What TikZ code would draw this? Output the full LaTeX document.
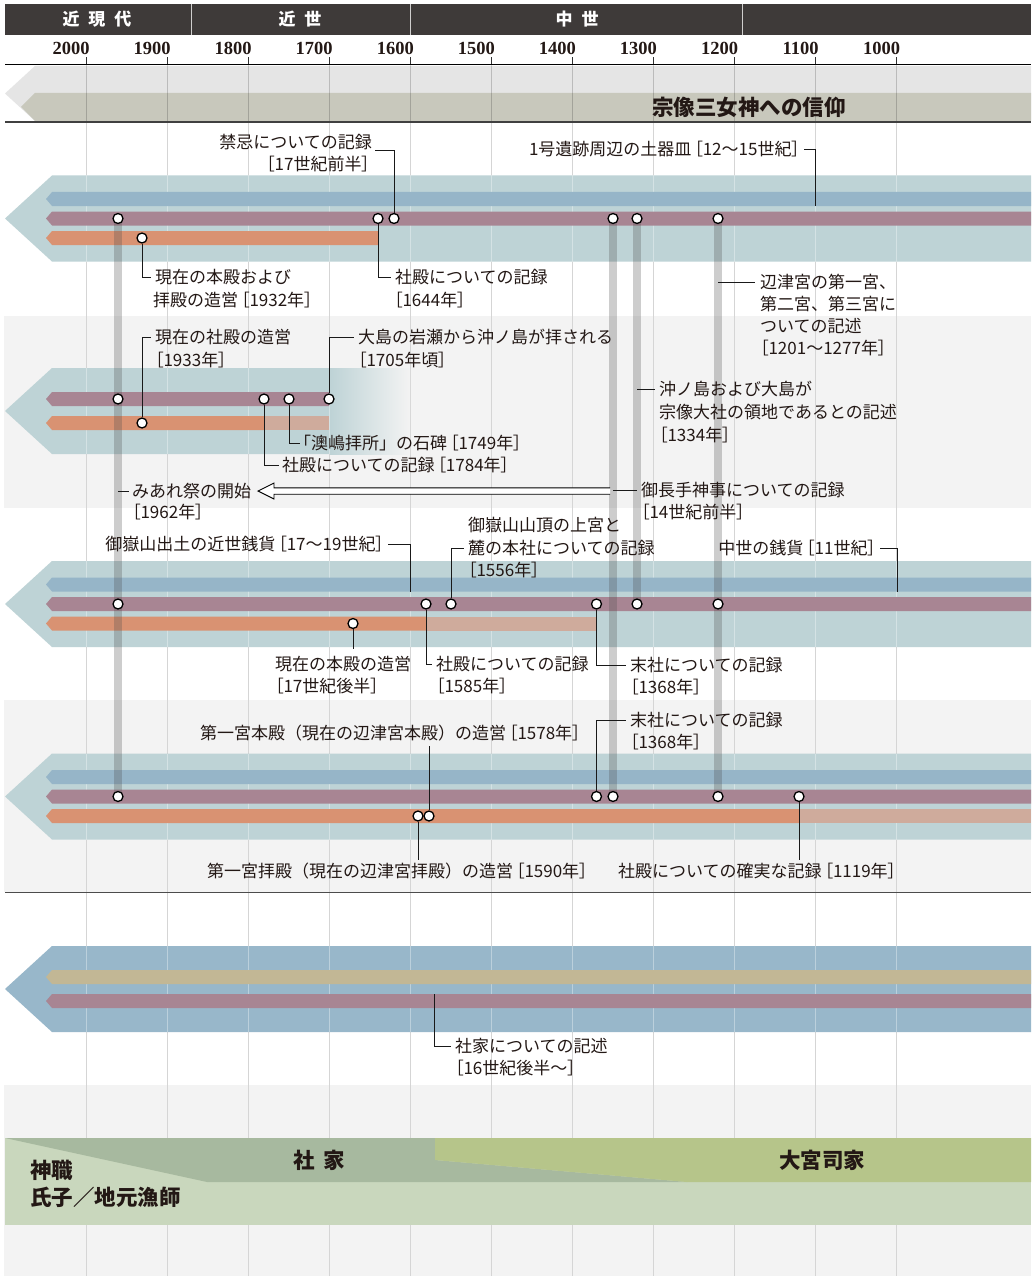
\documentclass[tikz,border=0pt]{standalone}
\usepackage{fontspec}
\newfontfamily\jp{Noto Sans CJK JP}
\newfontfamily\jpp{Noto Sans CJK JP}[RawFeature=+palt]
\newfontfamily\yrf{Liberation Serif}
\newcommand\lb{\kern2.8pt{\jpp ［}}
\newcommand\rb{{\jpp ］}\kern2.8pt}
\usetikzlibrary{calc}
\definecolor{hdr}{HTML}{3E3A39}
\definecolor{txt}{HTML}{231815}
\definecolor{bgc}{HTML}{F3F3F3}
\definecolor{gridc}{HTML}{D5D5D5}
\definecolor{seca}{HTML}{E5E5E5}
\definecolor{secb}{HTML}{C8C8BC}
\definecolor{tealc}{HTML}{BED3D6}
\definecolor{blueb}{HTML}{96B5C8}
\definecolor{purp}{HTML}{A88593}
\definecolor{orng}{HTML}{D99272}
\definecolor{lorng}{HTML}{CFAB9C}
\definecolor{chfive}{HTML}{98B7CA}
\definecolor{tanb}{HTML}{C2B795}
\definecolor{lgreen}{HTML}{C9D7BD}
\definecolor{ggreen}{HTML}{A7B99F}
\definecolor{ygreen}{HTML}{B6C58A}
\pgfdeclarelayer{back}
\pgfdeclarelayer{mid}
\pgfsetlayers{back,mid,main}
\newcommand\mychev[2]{\fill[#2] (5,#1) -- (52,{#1-43}) -- (1031,{#1-43}) -- (1031,{#1+43}) -- (52,{#1+43}) -- cycle;}
\newcommand\myband[3]{\fill[#3] (46,#2) -- (52,{#2-7}) -- (#1,{#2-7}) -- (#1,{#2+7}) -- (52,{#2+7}) -- cycle;}
\newcommand\gridover[2]{\foreach \k in {0,...,10} {\draw[gridw] ({86+81.07*\k},#1) -- ({86+81.07*\k},#2);}}
\tikzset{
  grid/.style={draw=gridc, line width=0.9pt},
  gridw/.style={draw=white, opacity=0.35, line width=0.9pt},
  tickm/.style={draw=black!80, line width=1pt},
  lbl/.style={font=\jp\fontsize{17}{22}\selectfont, text=txt, inner sep=0pt, text height=14.5pt, text depth=2pt},
  yrlbl/.style={font=\yrf\bfseries\fontsize{18.5}{18.5}\selectfont, text=txt, inner sep=0pt},
  hdrlbl/.style={font=\jp\bfseries\fontsize{17}{17}\selectfont, text=white, inner sep=0pt},
  brush/.style={font=\jp\bfseries\fontsize{21.5}{21.5}\selectfont, text=txt, inner sep=0pt},
  dot/.style={circle, draw=black, fill=white, line width=1.3pt, minimum size=10pt, inner sep=0pt},
  conn/.style={draw=black!90, line width=0.9pt},
  vline/.style={draw=black!70, opacity=0.28, line width=8pt},
}
\begin{document}
\begin{tikzpicture}[x=1pt,y=-1pt]
\useasboundingbox (0,0) rectangle (1031,1276);
\begin{pgfonlayer}{back}
\fill[white] (0,0) rectangle (1031,1276);
\fill[bgc] (4,316) rectangle (1031,508);
\fill[bgc] (4,700) rectangle (1031,892);
\fill[bgc] (4,1085) rectangle (1031,1276);
\foreach \k in {0,...,10} {
  \draw[grid] ({86+81.07*\k},65) -- ({86+81.07*\k},1276);
  \draw[tickm] ({86+81.07*\k},57.5) -- ({86+81.07*\k},64.5);
}
% header
\fill[hdr] (5,4) rectangle (1031,35);
\foreach \x in {191,410,742.5} \draw[draw=white!75!hdr, line width=0.9pt] (\x,4) -- (\x,35);
\draw[black, line width=1.1pt] (5,64.5) -- (1031,64.5);
% section 1
\fill[seca] (35,66) -- (1031,66) -- (1031,121) -- (35,121) -- (5,93.5) -- cycle;
\fill[secb] (35,93) -- (1031,93) -- (1031,121) -- (35,121) -- (21,107) -- cycle;
\foreach \k in {0,...,10} {\draw[draw=black, opacity=0.18, line width=0.9pt] ({86+81.07*\k},66) -- ({86+81.07*\k},121);}
\draw[draw=black!75, line width=1.4pt] (5,122) -- (1031,122);
% chevron 1
\mychev{218.5}{tealc}
\gridover{175.5}{261.5}
\myband{1031}{199}{blueb}
\myband{1031}{218.5}{purp}
\myband{378}{238}{orng}
% chevron 2
\fill[tealc] (5,411) -- (52,368) -- (331,368) -- (331,454) -- (52,454) -- cycle;
\shade[left color=tealc, right color=bgc] (330,368) rectangle (410,454);
\foreach \k in {0,...,3} {\draw[gridw] ({86+81.07*\k},368) -- ({86+81.07*\k},454);}
\myband{329}{399}{purp}
\myband{264}{423}{orng}
\fill[lorng] (264,416) rectangle (329,430);
% chevron 3
\mychev{604}{tealc}
\gridover{561}{647}
\myband{1031}{584.5}{blueb}
\myband{1031}{604}{purp}
\myband{426}{623.5}{orng}
\fill[lorng] (426,616.5) rectangle (596.5,630.5);
% chevron 4
\mychev{796.5}{tealc}
\gridover{753.5}{839.5}
\myband{1031}{777}{blueb}
\myband{1031}{796.5}{purp}
\myband{799}{816}{orng}
\fill[lorng] (799,809) rectangle (1031,823);
\draw[draw=black!70, line width=1.1pt] (5,892.5) -- (1031,892.5);
% chevron 5
\mychev{989}{chfive}
\gridover{946}{1032}
\myband{1031}{977}{tanb}
\myband{1031}{1001}{purp}
% bottom band
\fill[lgreen] (5,1138) rectangle (1031,1225);
\fill[ggreen] (5,1138) -- (435,1138) -- (435,1160) -- (687,1182) -- (207,1182) -- cycle;
\fill[ygreen] (435,1138) -- (1031,1138) -- (1031,1182) -- (687,1182) -- (435,1160) -- cycle;
\end{pgfonlayer}

% header labels
\node[hdrlbl] (h1) at (97,19.5) {近\hspace{9pt}現\hspace{9pt}代};
\node[hdrlbl] (h2) at (300,19.5) {近\hspace{9pt}世};
\node[hdrlbl] (h3) at (577,19.5) {中\hspace{9pt}世};
\foreach \yy [count=\k from 0] in {2000,1900,1800,1700,1600,1500,1400,1300,1200,1100,1000}
  \node[yrlbl] (yr\yy) at ({71+81.07*\k},48) {\yy};
\node[brush] (shin) at (749,107) {宗像三女神への信仰};

% circles
\foreach \n/\x/\y in {c1a/118/218.5, c1b/378/218.5, c1c/394/218.5, c1d/613/218.5, c1e/637/218.5, c1f/718/218.5, c1g/142/238,
  c2a/118/399, c2b/264/399, c2c/289/399, c2d/329/399, c2e/142/423,
  c3a/118/604, c3b/426/604, c3c/451/604, c3d/596.5/604, c3e/637/604, c3f/718/604, c3g/353/623.5,
  c4a/118/796.5, c4b/596.5/796.5, c4c/613/796.5, c4d/718/796.5, c4e/799/796.5, c4f/418/816, c4g/429/816}
  \node[dot] (\n) at (\x,\y) {};

\begin{pgfonlayer}{mid}
\draw[vline] (c1a.center) -- (c4a.center);
\draw[vline] (c1d.center) -- (c4c.center);
\draw[vline] (c1e.center) -- (c3e.center);
\draw[vline] (c1f.center) -- (c4d.center);
\end{pgfonlayer}

% ---- section 1 labels
\node[lbl, anchor=east] (n1a) at (372,142) {禁忌についての記録};
\node[lbl, anchor=east] (n1a2) at (373,164) {\lb 17世紀前半\rb};
\draw[conn] ([xshift=3pt]n1a.south east) -| (c1c.north);
\node[lbl, anchor=east] (n1b) at (803,149) {1号遺跡周辺の土器皿\lb 12～15世紀\rb};
\coordinate (b1) at (815,206);
\draw[conn] ([xshift=1pt]n1b.east) -| (b1);
\node[lbl, anchor=west] (n1c) at (155,277) {現在の本殿および};
\node[lbl, anchor=west] (n1c2) at (153,300) {拝殿の造営\lb 1932年\rb};
\draw[conn] (c1g.south) |- ([xshift=-4pt]n1c.west);
\node[lbl, anchor=west] (n1d) at (395,277) {社殿についての記録};
\node[lbl, anchor=west] (n1d2) at (391,300) {\lb 1644年\rb};
\draw[conn] (c1b.south) |- ([xshift=-4pt]n1d.west);
\node[lbl, anchor=west] (n1e) at (760,282) {辺津宮の第一宮、};
\node[lbl, anchor=west] (n1e2) at (760,304) {第二宮、第三宮に};
\node[lbl, anchor=west] (n1e3) at (760,326) {ついての記述};
\node[lbl, anchor=west] (n1e4) at (757,348) {\lb 1201～1277年\rb};
\draw[conn] (c1f |- n1e.west) -- ([xshift=-5pt]n1e.west);

% ---- section 2 labels
\node[lbl, anchor=west] (n2a) at (155,337) {現在の社殿の造営};
\node[lbl, anchor=west] (n2a2) at (152,360) {\lb 1933年\rb};
\draw[conn] (c2e.north) |- ([xshift=-4pt]n2a.west);
\node[lbl, anchor=west] (n2b) at (358,337) {大島の岩瀬から沖ノ島が拝される};
\node[lbl, anchor=west] (n2b2) at (355,360) {\lb 1705年頃\rb};
\draw[conn] (c2d.north) |- ([xshift=-4pt]n2b.west);
\node[lbl, anchor=west] (n2c) at (294,443) {「澳嶋拝所」の石碑\lb 1749年\rb};
\draw[conn] (c2c.south) |- ([xshift=6pt]n2c.west);
\node[lbl, anchor=west] (n2d) at (282,465) {社殿についての記録\lb 1784年\rb};
\draw[conn] (c2b.south) |- ([xshift=-3pt]n2d.west);
\node[lbl, anchor=west] (n2e) at (132,491) {みあれ祭の開始};
\node[lbl, anchor=west] (n2e2) at (129,512) {\lb 1962年\rb};
\draw[conn] (c1a |- n2e.west) -- ([xshift=-3pt]n2e.west);
\node[lbl, anchor=west] (n2f) at (641,490) {御長手神事についての記録};
\node[lbl, anchor=west] (n2f2) at (638,512) {\lb 14世紀前半\rb};
\draw[conn] (c1d |- n2f.west) -- ([xshift=-4pt]n2f.west);
\coordinate (arR) at (610,491);
\coordinate (arL) at (258,491);
\filldraw[fill=white, draw=black, line width=0.9pt] ($(arR)+(0,-3.2)$) -- ($(arL)+(16,-3.2)$) -- ($(arL)+(16,-8)$) -- (arL) -- ($(arL)+(16,8)$) -- ($(arL)+(16,3.2)$) -- ($(arR)+(0,3.2)$);
\node[lbl, anchor=west] (n2g) at (659,389) {沖ノ島および大島が};
\node[lbl, anchor=west] (n2g2) at (659,412) {宗像大社の領地であるとの記述};
\node[lbl, anchor=west] (n2g3) at (656,435) {\lb 1334年\rb};
\draw[conn] (c1e |- n2g.west) -- ([xshift=-4pt]n2g.west);

% ---- section 3 labels
\node[lbl, anchor=east] (n3a) at (387,544) {御嶽山出土の近世銭貨\lb 17～19世紀\rb};
\coordinate (b3a) at (410,592);
\draw[conn] ([xshift=1pt]n3a.east) -| (b3a);
\node[lbl, anchor=west] (n3b) at (468,525) {御嶽山山頂の上宮と};
\node[lbl, anchor=west] (n3b2) at (468,548) {麓の本社についての記録};
\node[lbl, anchor=west] (n3b3) at (465,570) {\lb 1556年\rb};
\draw[conn] (c3c.north) |- ([xshift=-4pt]n3b2.west);
\node[lbl, anchor=east] (n3c) at (879,548) {中世の銭貨\lb 11世紀\rb};
\coordinate (b3c) at (897,592);
\draw[conn] ([xshift=1pt]n3c.east) -| (b3c);
\node[lbl, anchor=west] (n3d) at (275,664) {現在の本殿の造営};
\node[lbl, anchor=west] (n3d2) at (272,686) {\lb 17世紀後半\rb};
\coordinate (e3d) at (353,649);
\draw[conn] (c3g.south) -- (e3d);
\node[lbl, anchor=west] (n3e) at (436,664) {社殿についての記録};
\node[lbl, anchor=west] (n3e2) at (433,686) {\lb 1585年\rb};
\draw[conn] (c3b.south) |- ([xshift=-4pt]n3e.west);
\node[lbl, anchor=west] (n3f) at (630,665) {末社についての記録};
\node[lbl, anchor=west] (n3f2) at (627,687) {\lb 1368年\rb};
\draw[conn] (c3d.south) |- ([xshift=-4pt]n3f.west);

% ---- section 4 labels
\node[lbl, anchor=west] (n4a) at (630,720) {末社についての記録};
\node[lbl, anchor=west] (n4a2) at (627,742) {\lb 1368年\rb};
\draw[conn] (c4b.north) |- ([xshift=-4pt]n4a.west);
\node[lbl, anchor=west] (n4b) at (200,733) {第一宮本殿（現在の辺津宮本殿）の造営\lb 1578年\rb};
\coordinate (e4b) at (429,746);
\draw[conn] (c4g.north) -- (e4b);
\node[lbl, anchor=west] (n4c) at (207,871) {第一宮拝殿（現在の辺津宮拝殿）の造営\lb 1590年\rb};
\coordinate (e4c) at (418,860);
\draw[conn] (c4f.south) -- (e4c);
\node[lbl, anchor=west] (n4d) at (618,871) {社殿についての確実な記録\lb 1119年\rb};
\coordinate (e4d) at (799,860);
\draw[conn] (c4e.south) -- (e4d);

% ---- section 5 labels
\coordinate (b5) at (434,994);
\node[lbl, anchor=west] (n5) at (455,1046) {社家についての記述};
\node[lbl, anchor=west] (n52) at (452,1068) {\lb 16世紀後半～\rb};
\draw[conn] (b5) |- ([xshift=-4pt]n5.west);

% ---- bottom band labels
\node[brush, anchor=west] (s1) at (30,1170) {神職};
\node[brush, anchor=west] (s2) at (30,1197) {氏子／地元漁師};
\node[brush] (s3) at (319,1160) {社\hspace{9pt}家};
\node[brush] (s4) at (822,1160) {大宮司家};
\end{tikzpicture}
\end{document}
